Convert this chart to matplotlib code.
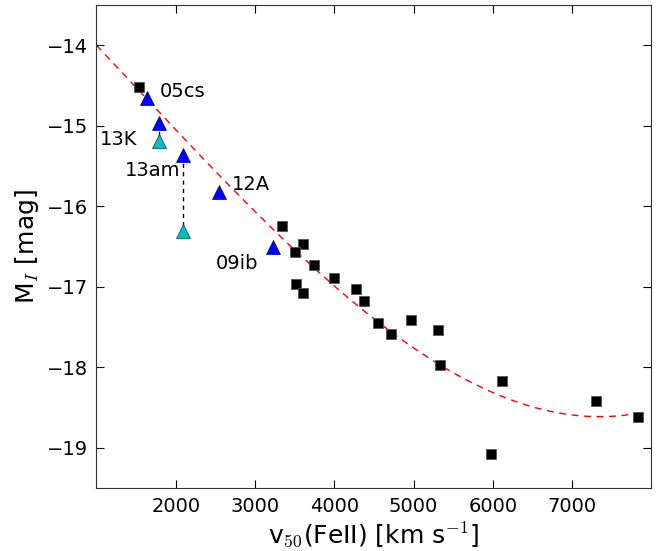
import matplotlib
matplotlib.use('Agg')
import matplotlib.pyplot as plt
import numpy as np

plt.rcParams['mathtext.fontset'] = 'cm'

# SNe from the comparison sample (black squares)
v_sample = [1540, 3338, 3607, 3506, 3742, 3995, 3515, 3607, 4268, 4369,
            4551, 4715, 4972, 5304, 5334, 6117, 5978, 7305, 7830]
m_sample = [-14.52, -16.24, -16.47, -16.57, -16.73, -16.89, -16.96, -17.08, -17.03, -17.17,
            -17.45, -17.59, -17.41, -17.54, -17.97, -18.17, -19.08, -18.42, -18.61]

# labelled objects: blue = measured, cyan = alternative estimate
names = ['05cs', '13K', '13am', '12A', '09ib']
v_blue = [1640, 1788, 2095, 2542, 3232]
m_blue = [-14.66, -14.96, -15.36, -15.82, -16.50]
v_cyan = [1788, 2095]
m_cyan = [-15.19, -16.31]

# polynomial fit in v/1000 (highest power first)
fit_coef = [0.01016, -0.04491, -0.98501, -12.98024]

fig = plt.figure(figsize=(6.56, 5.51), dpi=100)
ax = fig.add_axes([0.147, 0.114, 0.846, 0.877])

vv = np.linspace(1000, 7850, 300)
ax.plot(vv, np.polyval(fit_coef, vv / 1000.), '--', color='red', lw=1, dashes=(5, 4), zorder=1)

# link the two estimates of the same object
for vc, mc in zip(v_cyan, m_cyan):
    mb = m_blue[v_blue.index(vc)]
    ax.plot([vc, vc], [mb, mc], '--', color='k', lw=1, dashes=(3, 3), zorder=2)

ax.plot(v_sample, m_sample, 's', color='k', ms=7, mec='#555555', mew=0.6, zorder=3)
ax.plot(v_blue, m_blue, '^', color='b', ms=10, mec='#000066', mew=0.5, zorder=4)
ax.plot(v_cyan, m_cyan, '^', color=(0, 0.75, 0.75), ms=10, mec='#004444', mew=0.5, zorder=4)

ax.text(1801, -14.57, '05cs', fontsize=14, ha='left', va='center')
ax.text(1519, -15.17, '13K', fontsize=14, ha='right', va='center')
ax.text(1359, -15.56, '13am', fontsize=14, ha='left', va='center')
ax.text(2707, -15.73, '12A', fontsize=14, ha='left', va='center')
ax.text(2500, -16.71, '09ib', fontsize=14, ha='left', va='center')

ax.set_xlim(1000, 8000)
ax.set_ylim(-19.5, -13.5)
ax.set_xticks([2000, 3000, 4000, 5000, 6000, 7000])
ax.set_yticks([-14, -15, -16, -17, -18, -19])
ax.tick_params(direction='in', top=True, right=True, length=6, width=0.8, labelsize=14, pad=6)
for s in ax.spines.values():
    s.set_color('#333333')

ax.set_xlabel(r'v$_{50}$(FeII) [km s$^{-1}$]', fontsize=18)
ax.set_ylabel(r'M$_I$ [mag]', fontsize=18)

fig.savefig('out.png', dpi=100)
